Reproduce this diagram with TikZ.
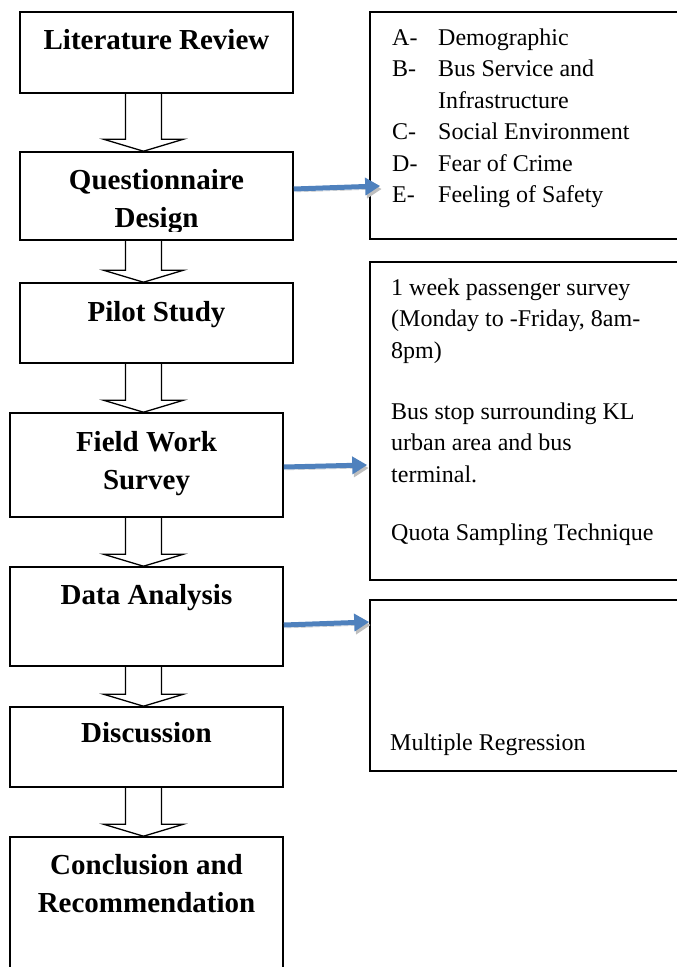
\documentclass[tikz,border=0pt]{standalone}
\usepackage{fontspec}
\setmainfont{Liberation Serif}
\usetikzlibrary{positioning, arrows.meta, calc}
\definecolor{ink}{RGB}{0,0,0}
\definecolor{linkblue}{RGB}{79,129,189}
\definecolor{shade}{RGB}{190,190,190}

% hollow block arrow from the bottom of one stage to the top of the next
\newcommand{\flowdown}[2]{%
  \draw[hollow] ($(#1.south -| axis)+(-18,0)$) -- ($(#2.north -| axis)+(-18,-12)$)
    -- ++(-22,0) -- (#2.north -| axis) -- ++(40,-12) -- ++(-22,0)
    -- ($(#1.south -| axis)+(18,0)$);}

\begin{document}
\begin{tikzpicture}[x=1pt, y=-1pt]
  \tikzset{
    stage/.style={draw=ink, line width=1.6pt, minimum width=273pt, inner sep=0pt},
    note/.style={draw=ink, line width=1.6pt, minimum width=330pt, inner sep=0pt},
    title/.style={font=\fontsize{29}{38.5}\selectfont\bfseries, inner sep=0pt, anchor=base},
    body/.style={font=\fontsize{24}{31.5}\selectfont, inner sep=0pt, anchor=base west},
    hollow/.style={draw=ink, line width=1.3pt, line join=miter},
    feed/.style={draw=linkblue, line width=5pt, -{Triangle[length=15pt,width=17pt]},
      preaction={draw=shade, transform canvas={shift={(1.5pt,-3pt)}}}}}

  \useasboundingbox (0,0) rectangle (677,967);
  \clip (0,0) rectangle (677,967);
  \coordinate (axis) at (143.5,0);

  % --- the stages, top to bottom
  \node[stage, minimum height=81pt] (lit) at (156.5,52.5) {};
  \node[title] (littxt) at ($(lit.north)+(0,38)$) {Literature Review};

  \node[stage, minimum height=88pt] (design) at (156.5,196) {};
  \begin{scope}
    \clip (20,152) rectangle (293,231);
    \node[title] (designtxt) at ($(design.north)+(0,38)$)
      {\begin{tabular}[t]{@{}c@{}}Questionnaire\\Design\end{tabular}};
  \end{scope}

  \node[stage, minimum height=80pt] (pilot) at (156.5,323) {};
  \node[title] (pilottxt) at ($(pilot.north)+(0,39)$) {Pilot Study};

  \node[stage, minimum height=104pt] (field) at (146.5,465) {};
  \node[title] (fieldtxt) at ($(field.north)+(0,39)$)
    {\begin{tabular}[t]{@{}c@{}}Field Work\\Survey\end{tabular}};

  \node[stage, minimum height=99pt] (analysis) at (146.5,616.5) {};
  \node[title] (analysistxt) at ($(analysis.north)+(0,38)$) {Data Analysis};

  \node[stage, minimum height=80pt] (discuss) at (146.5,747) {};
  \node[title] (discusstxt) at ($(discuss.north)+(0,36)$) {Discussion};

  \node[stage, minimum height=152pt] (concl) at (146.5,913) {};
  \node[title] (concltxt) at ($(concl.north)+(0,38)$)
    {\begin{tabular}[t]{@{}c@{}}Conclusion and\\Recommendation\end{tabular}};

  \flowdown{lit}{design}
  \flowdown{design}{pilot}
  \flowdown{pilot}{field}
  \flowdown{field}{analysis}
  \flowdown{analysis}{discuss}
  \flowdown{discuss}{concl}

  % --- the notes on the right
  \node[note, minimum height=227pt] (items) at (535,125.5) {};
  \node[body] (itemstxt) at (392,45)
    {\begin{tabular}[t]{@{}p{46pt}@{}l@{}}
      A- & Demographic\\
      B- & Bus Service and\\
         & Infrastructure\\
      C- & Social Environment\\
      D- & Fear of Crime\\
      E- & Feeling of Safety
    \end{tabular}};

  \node[note, minimum height=318pt] (survey) at (535,421) {};
  \node[body] (surveytxt) at (391,295)
    {\begin{tabular}[t]{@{}l@{}}
      1 week passenger survey\\
      (Monday to -Friday, 8am-\\
      8pm)\\[29.5pt]
      Bus stop surrounding KL\\
      urban area and bus\\
      terminal.\\[26.5pt]
      Quota Sampling Technique
    \end{tabular}};

  \node[note, minimum height=171pt] (method) at (535,685.5) {};
  \node[body] (methodtxt) at (390,750) {Multiple Regression};

  % --- links from stage to note
  \draw[feed] ([yshift=7pt]design.east) -- ([xshift=11pt,yshift=10pt]design.east -| items.west);
  \draw[feed] ([yshift=-2pt]field.east) -- ([xshift=-2pt]field.east -| survey.west);
  \draw[feed] ([yshift=-8.5pt]analysis.east) -- ([yshift=-5.5pt]analysis.east -| method.west);
\end{tikzpicture}
\end{document}
